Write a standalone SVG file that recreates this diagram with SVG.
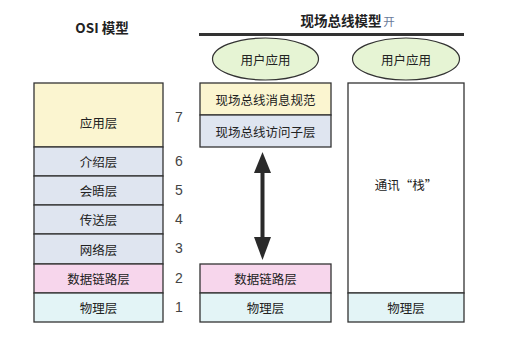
<svg xmlns="http://www.w3.org/2000/svg" width="521" height="338" viewBox="0 0 521 338">
<style>
text{font-family:"Noto Sans CJK SC","Liberation Sans",sans-serif;fill:#222;font-size:12.5px;text-anchor:middle;dominant-baseline:central}
.box{stroke:#333;stroke-width:1.3}
.y{fill:#fbf5d0}.b{fill:#dfe5f0}.p{fill:#f7d6ec}.c{fill:#e3f4f6}.w{fill:#fff}
.num{font-family:"Liberation Sans",sans-serif;font-size:14px;fill:#444}
.t{font-weight:bold;font-size:13.5px}
.el{fill:#e6f4d4;stroke:#333;stroke-width:1.2}
</style>
<text class="t" x="102" y="27">OSI 模型</text>
<text class="t" x="341" y="20">现场总线模型</text>
<text x="389" y="21" style="font-size:11.5px;fill:#6a7a99">开</text>
<rect x="199" y="33" width="265" height="3" fill="#333"/>
<g id="osi">
<g id="osi7"><rect class="box y" x="34" y="83" width="129" height="64"/><text x="98.5" y="122">应用层</text><text class="num" x="179" y="117">7</text></g>
<g id="osi6"><rect class="box b" x="34" y="147" width="129" height="29"/><text x="98.5" y="161.5">介绍层</text><text class="num" x="179" y="161">6</text></g>
<g id="osi5"><rect class="box b" x="34" y="176" width="129" height="29"/><text x="98.5" y="190.5">会晤层</text><text class="num" x="179" y="190">5</text></g>
<g id="osi4"><rect class="box b" x="34" y="205" width="129" height="29"/><text x="98.5" y="219.5">传送层</text><text class="num" x="179" y="219">4</text></g>
<g id="osi3"><rect class="box b" x="34" y="234" width="129" height="30"/><text x="98.5" y="249">网络层</text><text class="num" x="179" y="248">3</text></g>
<g id="osi2"><rect class="box p" x="34" y="264" width="129" height="29"/><text x="98.5" y="278.5">数据链路层</text><text class="num" x="179" y="278">2</text></g>
<g id="osi1"><rect class="box c" x="34" y="293" width="129" height="29"/><text x="98.5" y="307.5">物理层</text><text class="num" x="179" y="307">1</text></g>
</g>
<g id="fb">
<g id="fb-app"><ellipse class="el" cx="265.5" cy="59" rx="53" ry="21"/><text x="265.5" y="59">用户应用</text></g>
<g id="fb-msg"><rect class="box y" x="200" y="83" width="131" height="32"/><text x="265.5" y="99">现场总线消息规范</text></g>
<g id="fb-acc"><rect class="box b" x="200" y="115" width="131" height="32"/><text x="265.5" y="131">现场总线访问子层</text></g>
<g id="fb-dl"><rect class="box p" x="200" y="264" width="131" height="29"/><text x="265.5" y="278.5">数据链路层</text></g>
<g id="fb-ph"><rect class="box c" x="200" y="293" width="131" height="29"/><text x="265.5" y="307.5">物理层</text></g>
</g>
<g id="other">
<g id="o-app"><ellipse class="el" cx="406" cy="59" rx="53.5" ry="21"/><text x="406" y="59">用户应用</text></g>
<g id="o-stack"><rect class="box w" x="348" y="83" width="116" height="210"/><text x="406" y="184">通讯“栈”</text></g>
<g id="o-ph"><rect class="box c" x="348" y="293" width="116" height="29"/><text x="406" y="307.5">物理层</text></g>
</g>
<g id="connectors">
<line x1="262.5" y1="165" x2="262.5" y2="245" stroke="#2a2a2a" stroke-width="4"/>
<path d="M262.5,152 L271,173 L254,173 Z" fill="#2a2a2a"/>
<path d="M262.5,260 L271,237 L254,237 Z" fill="#2a2a2a"/>
</g>
</svg>
